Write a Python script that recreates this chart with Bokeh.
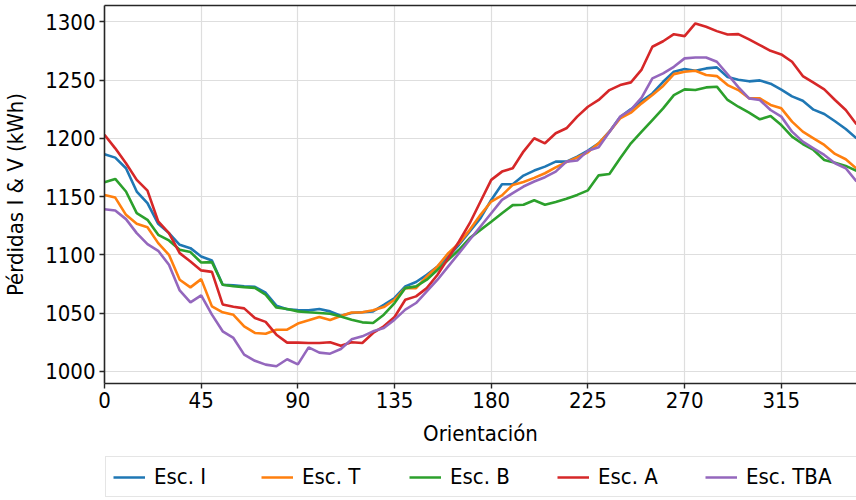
from bokeh.plotting import figure
from bokeh.layouts import column
from bokeh.models import LinearAxis, FixedTicker, Range1d, Legend, LegendItem
from bokeh.embed import file_html
from bokeh.resources import INLINE

# Orientation in degrees (5-degree steps)
orientacion = list(range(0, 355, 5))

esc_i = [1186.3, 1183.4, 1174.3, 1154.3, 1144.3, 1126.6, 1118.6, 1108.6, 1105.7, 1098.6,
         1095.1, 1074.3, 1073.7, 1072.9, 1072.5, 1067.4, 1056.3, 1053.2, 1052.6, 1052.3,
         1053.4, 1051.4, 1047.7, 1050.0, 1050.6, 1051.4, 1057.1, 1062.9, 1072.9, 1076.6,
         1082.9, 1090.0, 1098.6, 1108.6, 1120.0, 1131.4, 1147.1, 1160.6, 1160.6, 1168.0,
         1172.3, 1175.7, 1180.0, 1180.0, 1184.3, 1189.4, 1195.7, 1205.7, 1218.3, 1225.0,
         1232.0, 1238.5, 1248.5, 1257.1, 1259.4, 1258.0, 1260.0, 1260.9, 1252.6, 1250.3,
         1248.9, 1249.7, 1246.9, 1241.7, 1236.0, 1232.3, 1224.6, 1220.9, 1214.6, 1208.0,
         1200.0]

esc_t = [1151.4, 1149.1, 1134.3, 1126.6, 1123.7, 1110.0, 1100.0, 1078.6, 1072.0, 1079.1,
         1055.7, 1050.6, 1048.5, 1038.6, 1032.9, 1032.2, 1035.7, 1035.7, 1041.0, 1043.7,
         1046.6, 1044.0, 1047.4, 1050.5, 1050.6, 1052.3, 1055.1, 1061.4, 1071.4, 1071.4,
         1081.4, 1090.0, 1101.4, 1110.0, 1121.4, 1134.3, 1145.7, 1151.0, 1160.0, 1162.5,
         1166.0, 1170.0, 1175.0, 1179.5, 1183.5, 1188.0, 1195.7, 1205.7, 1217.1, 1222.0,
         1230.0, 1237.1, 1244.9, 1255.1, 1257.1, 1258.0, 1254.3, 1253.4, 1245.7, 1241.4,
         1234.3, 1234.3, 1228.6, 1225.7, 1214.3, 1205.7, 1200.0, 1194.3, 1186.6, 1182.0,
         1174.0]

esc_b = [1162.3, 1165.1, 1154.3, 1135.7, 1130.0, 1117.1, 1112.3, 1104.3, 1102.3, 1093.4,
         1093.7, 1074.3, 1073.0, 1072.2, 1071.6, 1065.7, 1054.7, 1053.4, 1051.4, 1050.6,
         1050.0, 1049.4, 1047.1, 1044.3, 1042.0, 1041.4, 1048.6, 1058.6, 1071.4, 1072.9,
         1078.6, 1087.1, 1095.7, 1104.3, 1114.3, 1121.4, 1128.3, 1135.7, 1142.6, 1142.9,
         1146.8, 1142.9, 1145.4, 1148.1, 1151.4, 1155.3, 1168.2, 1169.4, 1182.9, 1195.7,
         1205.7, 1215.7, 1225.7, 1237.1, 1242.0, 1241.4, 1243.7, 1244.3, 1232.9, 1227.1,
         1222.0, 1216.3, 1219.1, 1211.4, 1201.4, 1195.1, 1190.0, 1181.4, 1179.1, 1176.3,
         1172.0]

esc_a = [1202.9, 1191.4, 1178.6, 1164.3, 1155.1, 1128.6, 1118.6, 1101.4, 1094.3, 1086.6,
         1085.3, 1057.4, 1055.4, 1054.0, 1045.7, 1042.4, 1031.4, 1024.6, 1024.6, 1024.3,
         1024.3, 1024.9, 1022.0, 1024.9, 1024.3, 1032.9, 1038.6, 1046.6, 1061.4, 1064.3,
         1071.4, 1082.9, 1097.1, 1111.4, 1127.1, 1145.7, 1164.3, 1171.4, 1174.3, 1188.6,
         1200.0, 1195.7, 1204.3, 1208.6, 1218.6, 1227.1, 1232.9, 1241.4, 1245.7, 1248.0,
         1259.0, 1278.6, 1283.3, 1289.4, 1287.7, 1298.6, 1295.7, 1292.0, 1289.1, 1289.4,
         1284.9, 1280.0, 1275.1, 1272.0, 1265.7, 1253.4, 1247.7, 1242.0, 1232.9, 1224.3,
         1212.0]

esc_tba = [1139.1, 1138.0, 1130.6, 1118.6, 1109.1, 1103.4, 1091.4, 1069.4, 1059.1, 1065.1,
           1048.6, 1034.3, 1028.6, 1014.3, 1009.0, 1005.7, 1004.3, 1010.3, 1005.9, 1020.5,
           1016.0, 1015.1, 1019.1, 1027.4, 1030.0, 1034.3, 1037.1, 1044.3, 1052.9, 1058.6,
           1068.6, 1078.6, 1090.0, 1101.4, 1112.9, 1124.3, 1135.7, 1147.1, 1152.9, 1158.6,
           1162.9, 1166.6, 1171.4, 1180.0, 1180.9, 1189.4, 1192.3, 1205.5, 1218.6, 1224.5,
           1235.0, 1251.4, 1255.7, 1261.4, 1268.6, 1269.4, 1269.4, 1265.7, 1255.0, 1244.0,
           1234.3, 1232.9, 1224.3, 1218.6, 1205.7, 1197.1, 1191.4, 1185.7, 1178.6, 1174.3,
           1163.0]

series_names = ["Esc. I", "Esc. T", "Esc. B", "Esc. A", "Esc. TBA"]
series_values = [esc_i, esc_t, esc_b, esc_a, esc_tba]
series_colors = ["#1f77b4", "#ff7f0e", "#2ca02c", "#d62728", "#9467bd"]

x_ticks = [0, 45, 90, 135, 180, 225, 270, 315]
y_ticks = [1000, 1050, 1100, 1150, 1200, 1250, 1300]

FONT = "DejaVu Sans Condensed, DejaVu Sans, sans-serif"
AXIS_COLOR = "#262626"

# ---- main chart ----
p = figure(
    width=856, height=448,
    x_range=Range1d(0, 350), y_range=Range1d(989.5, 1314.0),
    output_backend="svg", toolbar_location=None,
    min_border_left=104, min_border_right=0, min_border_top=5, min_border_bottom=64,
)
p.outline_line_color = None
p.background_fill_color = "white"
p.border_fill_color = "white"

for vals, color in zip(series_values, series_colors):
    p.line(orientacion, vals, line_color=color, line_width=2.6)

for g in (p.xgrid, p.ygrid):
    g.grid_line_color = "#dedede"
    g.grid_line_width = 1.2
p.xgrid.ticker = FixedTicker(ticks=x_ticks)
p.ygrid.ticker = FixedTicker(ticks=y_ticks)

xa = p.xaxis[0]
xa.ticker = FixedTicker(ticks=x_ticks)
xa.axis_label = "Orientación"
ya = p.yaxis[0]
ya.ticker = FixedTicker(ticks=y_ticks)
ya.axis_label = "Pérdidas I & V (kWh)"

for ax in (xa, ya):
    ax.axis_line_color = AXIS_COLOR
    ax.axis_line_width = 1.6
    ax.major_tick_line_color = AXIS_COLOR
    ax.major_tick_line_width = 1.4
    ax.major_tick_out = 5
    ax.major_tick_in = 0
    ax.minor_tick_line_color = None
    ax.major_label_text_font = FONT
    ax.major_label_text_font_size = "22px"
    ax.major_label_text_color = "black"
    ax.axis_label_text_font = FONT
    ax.axis_label_text_font_size = "22px"
    ax.axis_label_text_font_style = "normal"
    ax.axis_label_text_color = "black"

xa.major_label_standoff = 3
xa.axis_label_standoff = 10
ya.major_label_standoff = 4
ya.axis_label_standoff = 14

# top spine
top = LinearAxis(ticker=FixedTicker(ticks=[]), axis_line_color=AXIS_COLOR, axis_line_width=1.6,
                 major_tick_out=0, major_tick_in=0, minor_tick_out=0, minor_tick_in=0,
                 major_label_text_font_size="0px", major_label_standoff=0)
p.add_layout(top, "above")

# ---- legend strip under the chart ----
leg = figure(
    width=856, height=52, x_range=Range1d(0, 1), y_range=Range1d(0, 1),
    output_backend="svg", toolbar_location=None,
    min_border_left=0, min_border_right=0, min_border_top=0, min_border_bottom=0,
)
leg.axis.visible = False
leg.grid.visible = False
leg.outline_line_color = None
leg.background_fill_color = "white"
leg.border_fill_color = "white"

items = []
for name, color in zip(series_names, series_colors):
    # legend key only: a single off-range vertex, nothing drawn in the strip
    r = leg.line([-1], [-1], line_color=color, line_width=2.6)
    items.append(LegendItem(label=name, renderers=[r]))

lg = Legend(items=items, orientation="horizontal", location=(1, 3), margin=0)
lg.label_text_font = FONT
lg.label_text_font_size = "22px"
lg.label_text_color = "black"
lg.glyph_width = 32
lg.glyph_height = 24
lg.label_standoff = 9
lg.label_width = 107
lg.label_height = 24
lg.spacing = 0
lg.padding = 7
lg.border_line_color = "#cccccc"
lg.border_line_width = 1.2
lg.background_fill_color = "white"
lg.background_fill_alpha = 1.0
leg.add_layout(lg, "center")

layout = column(p, leg, spacing=0)
open("out.html", "w").write(file_html(layout, INLINE))
